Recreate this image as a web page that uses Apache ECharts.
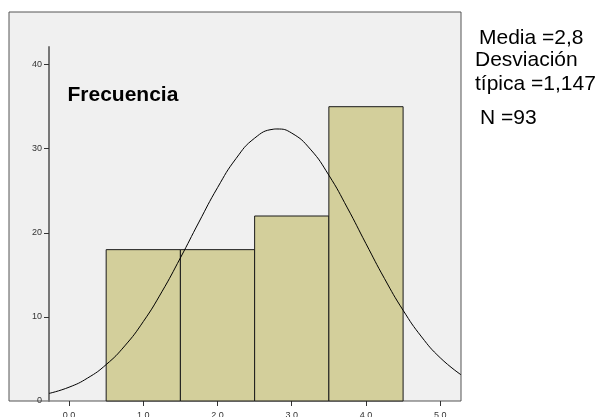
<!DOCTYPE html>
<html><head><meta charset="utf-8">
<script src="https://cdn.jsdelivr.net/npm/echarts@6/dist/echarts.min.js"></script>
<style>html,body{margin:0;padding:0;background:#fff}#c{width:600px;height:417px}</style>
</head><body><div id="c"></div>
<script>
// Histogram bins (start, end, frequency)
var binStarts = [0.5, 1.5, 2.5, 3.5];
var binEnds = [1.5, 2.5, 3.5, 4.5];
var frequencies = [18, 18, 22, 35];
// Normal curve points
var curveX = [-0.27, 0, 0.25, 0.5, 0.75, 1.0, 1.25, 1.5, 1.75, 2.0, 2.25, 2.5, 2.75, 2.8, 3.0, 3.25, 3.5, 3.75, 4.0, 4.25, 4.5, 4.75, 5.0, 5.28];
var curveY = [0.90, 1.64, 2.73, 4.33, 6.55, 9.44, 12.98, 17.02, 21.28, 25.37, 28.84, 31.26, 32.32, 32.35, 31.86, 29.95, 26.85, 22.96, 18.71, 14.55, 10.79, 7.62, 5.14, 3.12];
var xTickValues = [0, 1, 2, 3, 4, 5];
var yTickValues = [0, 10, 20, 30, 40];
var titleText = 'Frecuencia';
var statsLines = ['Media =2,8', 'Desviación', 'típica =1,147', 'N =93'];

var barData = binStarts.map(function (s, i) { return [s, binEnds[i], frequencies[i]]; });
var curveData = curveX.map(function (x, i) { return [x, curveY[i]]; });

var chart = echarts.init(document.getElementById('c'), null, {renderer: 'canvas'});
var font = 'Liberation Sans, Arial, sans-serif';
function txt(s, x, y, f) {
  return {type: 'text', x: x, y: y, style: {text: s, font: f, fill: '#000', verticalAlign: 'middle', align: 'left'}};
}
chart.setOption({
  animation: false,
  backgroundColor: '#ffffff',
  grid: [
    {left: 9, right: 139, top: 12, bottom: 16, show: true, backgroundColor: '#f0f0f0', borderColor: '#555555', borderWidth: 1, z: 0, containLabel: false, outerBoundsMode: 'none'},
    {left: 49, right: 139, top: 47, bottom: 16, show: false, containLabel: false, outerBoundsMode: 'none'}
  ],
  xAxis: [
    {gridIndex: 0, type: 'value', min: 0, max: 1, show: false},
    {gridIndex: 1, type: 'value', min: -0.27, max: 5.28,
      axisLine: {show: false},
      axisTick: {show: true, length: 5, customValues: xTickValues, lineStyle: {color: '#333333'}},
      axisLabel: {customValues: xTickValues, fontSize: 9, color: '#333333', fontFamily: font, margin: 10,
        formatter: function (v) { return v.toFixed(1); }},
      splitLine: {show: false}
    }
  ],
  yAxis: [
    {gridIndex: 0, type: 'value', min: 0, max: 1, show: false},
    {gridIndex: 1, type: 'value', min: 0, max: 42.1,
      axisLine: {show: true, onZero: false, lineStyle: {color: '#777777', width: 2}},
      axisTick: {show: true, length: 5, customValues: [10, 20, 30, 40], lineStyle: {color: '#333333'}},
      axisLabel: {customValues: yTickValues, fontSize: 9, color: '#333333', fontFamily: font, margin: 7},
      splitLine: {show: false}
    }
  ],
  series: [
    {
      type: 'custom', xAxisIndex: 1, yAxisIndex: 1,
      data: barData,
      encode: {x: [0, 1], y: 2},
      renderItem: function (params, api) {
        var p0 = api.coord([api.value(0), api.value(2)]);
        var p1 = api.coord([api.value(1), 0]);
        return {type: 'rect', shape: {x: p0[0], y: p0[1], width: p1[0] - p0[0], height: p1[1] - p0[1]},
          style: {fill: '#d3cf9b', stroke: '#1a1a1a', lineWidth: 1}};
      },
      z: 2
    },
    {
      type: 'line', xAxisIndex: 1, yAxisIndex: 1,
      data: curveData, smooth: true, showSymbol: false,
      lineStyle: {color: '#000000', width: 1},
      z: 3
    }
  ],
  graphic: [
    txt(titleText, 67.5, 95, 'bold 21px ' + font),
    txt(statsLines[0], 479, 38, '21px ' + font),
    txt(statsLines[1], 475, 60.5, '21px ' + font),
    txt(statsLines[2], 475, 84.5, '21px ' + font),
    txt(statsLines[3], 480, 118, '21px ' + font)
  ]
});
</script></body></html>
